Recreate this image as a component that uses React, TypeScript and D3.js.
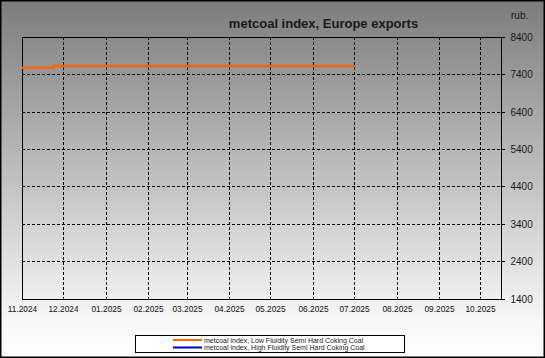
import React from "react";
import * as d3 from "d3";

const W = 545;
const H = 358;

const title = "metcoal index, Europe exports";
const unitLabel = "rub.";
const yTicks = [1400, 2400, 3400, 4400, 5400, 6400, 7400, 8400];
const monthTicks = [
  "2024-11-01", "2024-12-01", "2025-01-01", "2025-02-01", "2025-03-01", "2025-04-01",
  "2025-05-01", "2025-06-01", "2025-07-01", "2025-08-01", "2025-09-01", "2025-10-01",
];
const lowDates = ["2024-11-01", "2024-11-24", "2025-07-01"];
const lowValues = [7575, 7625, 7625];
const highDates: string[] = [];
const highValues: number[] = [];
const seriesNames = [
  "metcoal index, Low Fluidity Semi Hard Coking Coal",
  "metcoal index, High Fluidity Semi Hard Coking Coal",
];
const seriesColors = ["#ff6600", "#0000cc"];

const parse = d3.utcParse("%Y-%m-%d");
const fmt = d3.utcFormat("%m.%Y");

export default function App() {
  const left = 22, right = 501, top = 37, bottom = 298.5;
  const x = d3.scaleUtc()
    .domain([parse("2024-11-01")!, parse("2025-10-16")!])
    .range([left, right]);
  const y = d3.scaleLinear().domain([1400, 8400]).range([bottom, top]);

  const lowData = lowDates.map((d, i) => ({ date: parse(d)!, value: lowValues[i] }));
  const highData = highDates.map((d, i) => ({ date: parse(d)!, value: highValues[i] }));
  const line = d3.line<{ date: Date; value: number }>()
    .x((d) => x(d.date))
    .y((d) => y(d.value))
    .curve(d3.curveStepAfter);

  const font = "'Liberation Sans', Arial, sans-serif";
  const legX = 135, legY = 335, legW = 269, legH = 17;

  return (
    <div style={{ position: "fixed", left: 0, top: 0 }}>
      <svg width={W} height={H} style={{ display: "block" }} fontFamily={font}>
        <defs>
          <linearGradient id="bg" x1="0" y1="0" x2="0" y2="1">
            <stop offset="0" stopColor="#7c7c7c" />
            <stop offset="0.9" stopColor="#f8f8f8" />
            <stop offset="1" stopColor="#ffffff" />
          </linearGradient>
        </defs>
        <rect x={0} y={0} width={W} height={H} fill="url(#bg)" />
        <rect x={0.75} y={0.75} width={W - 1.5} height={H - 1.5} fill="none" stroke="#000" strokeWidth={1.5} />

        <text x={323.5} y={28} textAnchor="middle" fontSize={13} fontWeight="bold" fill="#1a1a1a">{title}</text>
        <text x={511} y={19} fontSize={10} fill="#1a1a1a">{unitLabel}</text>

        {/* horizontal grid */}
        {yTicks.map((t) => (
          <g key={t}>
            {t !== 1400 && t !== 8400 && (
              <line x1={left} x2={right} y1={Math.round(y(t)) + 0.5} y2={Math.round(y(t)) + 0.5}
                stroke="#000" strokeDasharray="3,2" />
            )}
            <line x1={right} x2={right + 4} y1={Math.round(y(t)) + 0.5} y2={Math.round(y(t)) + 0.5} stroke="#000" />
            <text x={510.5} y={Math.round(y(t)) + 4} fontSize={10} fill="#1a1a1a">{t}</text>
          </g>
        ))}

        {/* vertical grid */}
        {monthTicks.map((m) => {
          const d = parse(m)!;
          const xx = Math.round(x(d)) + 0.5;
          return (
            <g key={m}>
              {m !== monthTicks[0] && (
                <line x1={xx} x2={xx} y1={top} y2={bottom} stroke="#000" strokeDasharray="3,2" />
              )}
              <text x={xx} y={312} textAnchor="middle" fontSize={8.3} fill="#111">{fmt(d)}</text>
            </g>
          );
        })}

        {/* frame */}
        <rect x={left + 0.5} y={top + 0.5} width={right - left} height={Math.round(bottom - top)}
          fill="none" stroke="#000" strokeWidth={1} />

        {highData.length > 0 && (
          <path d={line(highData) || ""} fill="none" stroke={seriesColors[1]} strokeWidth={2.5} />
        )}
        <path d={line(lowData) || ""} fill="none" stroke={seriesColors[0]} strokeWidth={2.5} />

        {/* legend */}
        <rect x={legX + 0.5} y={legY + 0.5} width={legW} height={legH} fill="#fff" stroke="#000" />
        {seriesNames.map((n, i) => (
          <g key={n}>
            <line x1={173} x2={202} y1={legY + 5 + i * 7.5} y2={legY + 5 + i * 7.5}
              stroke={seriesColors[i]} strokeWidth={2} />
            <text x={204} y={legY + 7.5 + i * 7.5} fontSize={7} fill="#1a1a1a">{n}</text>
          </g>
        ))}
      </svg>
    </div>
  );
}
